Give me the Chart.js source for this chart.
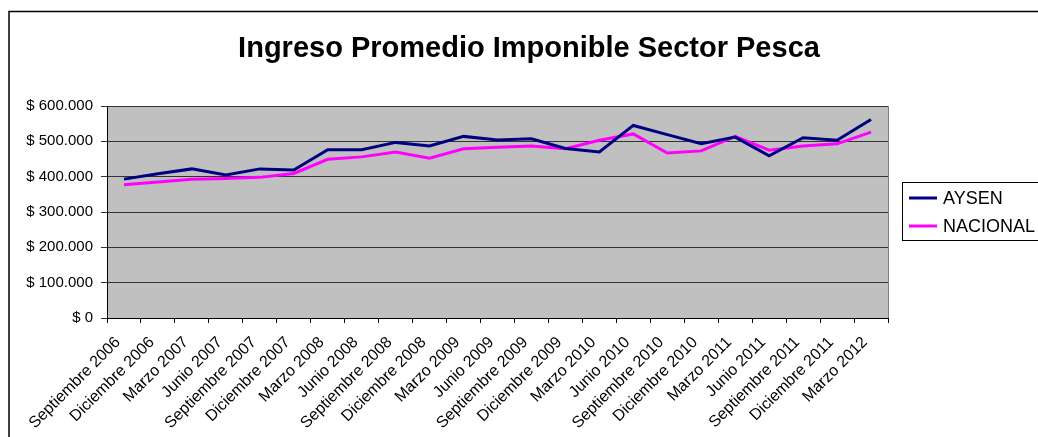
<!DOCTYPE html>
<html>
<head>
<meta charset="utf-8">
<script src="https://cdn.jsdelivr.net/npm/chart.js@4.4.0/dist/chart.umd.min.js"></script>
<style>
  html, body { margin: 0; padding: 0; background: #fff; }
  #wrap { width: 1038px; height: 437px; }
</style>
</head>
<body>
<div id="wrap"><canvas id="ingresoChart" width="1038" height="437"></canvas></div>
<script>
const TITLE = "Ingreso Promedio Imponible Sector Pesca";

const periodos = [
    "Septiembre 2006", "Diciembre 2006", "Marzo 2007", "Junio 2007",
    "Septiembre 2007", "Diciembre 2007", "Marzo 2008", "Junio 2008",
    "Septiembre 2008", "Diciembre 2008", "Marzo 2009", "Junio 2009",
    "Septiembre 2009", "Diciembre 2009", "Marzo 2010", "Junio 2010",
    "Septiembre 2010", "Diciembre 2010", "Marzo 2011", "Junio 2011",
    "Septiembre 2011", "Diciembre 2011", "Marzo 2012"
];

const aysen = [
    393000, 408000, 422000, 405000, 422000, 419000, 476000, 476000,
    497000, 487000, 514000, 504000, 507000, 480000, 470000, 545000,
    519000, 493000, 512000, 459000, 510000, 503000, 562000
];

const nacional = [
    377000, 385000, 393000, 395000, 398000, 409000, 449000, 456000,
    470000, 452000, 479000, 483000, 487000, 479000, 503000, 521000,
    467000, 473000, 514000, 475000, 487000, 493000, 526000
];

const Y_MIN = 0, Y_MAX = 600000, Y_STEP = 100000;

const FONT = "'Liberation Sans', Arial, sans-serif";

// "$ 600.000" style labels
function pesos(v) {
    if (v === 0) return "$ 0";
    return "$ " + String(v).replace(/\B(?=(\d{3})+(?!\d))/g, ".");
}

// frame, grey plot background, title and the boxed legend on the right
const excelLook = {
    id: 'excelLook',
    beforeDraw(chart) {
        const ctx = chart.ctx;
        const a = chart.chartArea;
        ctx.save();
        ctx.fillStyle = '#ffffff';
        ctx.fillRect(0, 0, chart.width, chart.height);
        ctx.strokeStyle = '#000000';
        ctx.lineWidth = 1.5;
        ctx.strokeRect(9, 11.5, chart.width + 20, chart.height + 20);
        ctx.fillStyle = '#c0c0c0';
        ctx.fillRect(a.left, a.top, a.right - a.left, a.bottom - a.top);
        ctx.restore();
    },
    afterDraw(chart) {
        const ctx = chart.ctx;
        const a = chart.chartArea;
        ctx.save();
        // plot border right side
        ctx.strokeStyle = '#808080';
        ctx.lineWidth = 1;
        ctx.beginPath();
        ctx.moveTo(a.right + 0.5, a.top);
        ctx.lineTo(a.right + 0.5, a.bottom);
        ctx.stroke();

        // title
        ctx.fillStyle = '#000000';
        ctx.font = "bold 29px " + FONT;
        ctx.textAlign = 'center';
        ctx.textBaseline = 'alphabetic';
        ctx.fillText(TITLE, 529, 57);

        // legend
        ctx.strokeStyle = '#000000';
        ctx.lineWidth = 1;
        ctx.strokeRect(902.5, 182.5, 160, 58);
        ctx.font = "18px " + FONT;
        ctx.textAlign = 'left';
        ctx.textBaseline = 'middle';
        const rows = [198, 226];
        chart.data.datasets.forEach((ds, i) => {
            ctx.strokeStyle = ds.borderColor;
            ctx.lineWidth = 3;
            ctx.beginPath();
            ctx.moveTo(909, rows[i]);
            ctx.lineTo(937, rows[i]);
            ctx.stroke();
            ctx.fillStyle = '#000000';
            ctx.fillText(ds.label, 943, rows[i] + 1);
        });
        ctx.restore();
    }
};

const ctx = document.getElementById('ingresoChart').getContext('2d');

const chart = new Chart(ctx, {
    type: 'line',
    data: {
        labels: periodos,
        datasets: [
            {
                label: 'AYSEN',
                data: aysen,
                borderColor: '#000080',
                borderWidth: 3,
                pointRadius: 0,
                tension: 0,
                fill: false
            },
            {
                label: 'NACIONAL',
                data: nacional,
                borderColor: '#ff00ff',
                borderWidth: 3,
                pointRadius: 0,
                tension: 0,
                fill: false
            }
        ]
    },
    options: {
        responsive: false,
        animation: false,
        devicePixelRatio: 1,
        layout: { padding: { left: 0, top: 106, right: 150, bottom: 0 } },
        plugins: {
            legend: { display: false },
            title: { display: false },
            tooltip: { enabled: false }
        },
        scales: {
            x: {
                offset: true,
                grid: {
                    offset: true,
                    drawOnChartArea: false,
                    drawTicks: true,
                    tickLength: 5,
                    color: '#000000'
                },
                border: { display: true, color: '#000000', width: 1 },
                ticks: {
                    autoSkip: false,
                    minRotation: 45,
                    maxRotation: 45,
                    padding: 10,
                    labelOffset: -6,
                    color: '#000000',
                    font: { family: FONT, size: 16 }
                },
                afterFit(scale) { scale.height = 437 - 318; }
            },
            y: {
                min: Y_MIN,
                max: Y_MAX,
                ticks: {
                    stepSize: Y_STEP,
                    padding: 8,
                    color: '#000000',
                    font: { family: FONT, size: 15 },
                    callback: (v) => pesos(v)
                },
                grid: {
                    color: '#333333',
                    lineWidth: 1,
                    tickLength: 6
                },
                border: { display: true, color: '#000000', width: 1 },
                afterFit(scale) { scale.width = 107; }
            }
        }
    },
    plugins: [excelLook]
});
</script>
</body>
</html>
